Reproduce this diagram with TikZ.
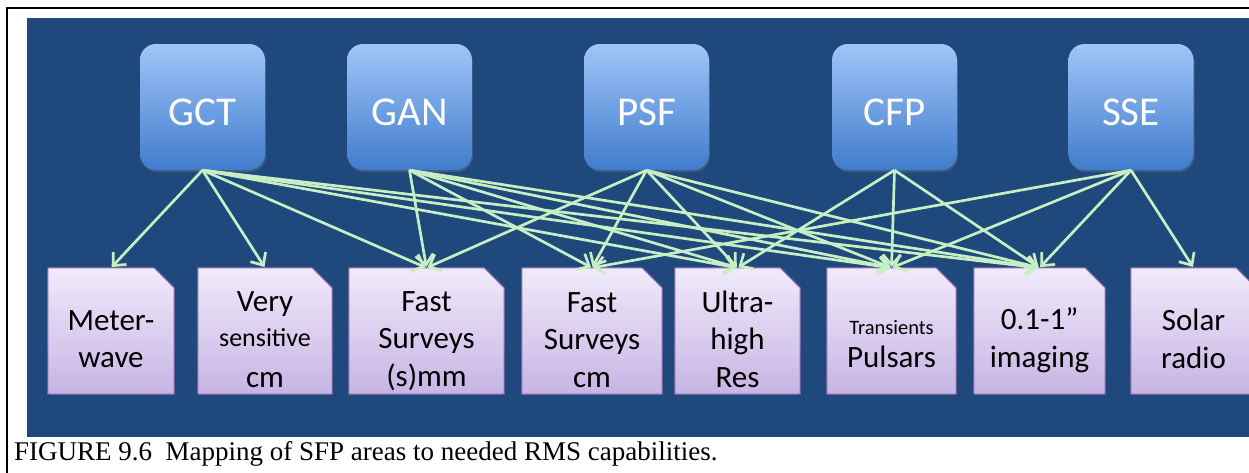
\documentclass[tikz,border=0pt]{standalone}
\usepackage{fontspec}
\setmainfont{Carlito}
\newfontfamily\capfont{Liberation Serif}
\usetikzlibrary{arrows.meta,shadows}
\definecolor{bgblue}{RGB}{31,72,124}
\definecolor{tbtop}{RGB}{160,198,248}
\definecolor{tbbot}{RGB}{64,124,204}
\definecolor{bbtop}{RGB}{240,234,250}
\definecolor{bbbot}{RGB}{200,180,228}
\definecolor{bbedge}{RGB}{140,110,175}
\definecolor{agreen}{RGB}{198,239,196}
\pgfdeclarelayer{back}
\pgfdeclarelayer{boxes}
\pgfsetlayers{back,boxes,main}
\tikzset{
  topbox/.style={rounded corners=16pt, minimum width=125pt, minimum height=126pt,
    top color=tbtop, bottom color=tbbot, text=white, inner sep=0pt,
    font=\fontsize{41}{41}\selectfont, text height=37pt, text depth=0pt,
    drop shadow={opacity=0.35, shadow xshift=1pt, shadow yshift=-2pt}},
  botbox/.style={minimum height=126pt, inner sep=0pt},
  btext/.style={align=center, inner sep=0pt, font=\fontsize{31}{37.5}\selectfont},
  snip/.style={top color=bbtop, bottom color=bbbot, draw=bbedge, line width=1pt},
  conn/.style={draw=agreen, line width=2.7pt,
    -{Straight Barb[length=10pt,width=18pt]}, shorten >=1pt}
}
\newcommand\snipbox[1]{%
  \shadedraw[snip] (#1.south west) -- (#1.north west) -- ([xshift=-20pt]#1.north east)
    -- ([yshift=-20pt]#1.north east) -- (#1.south east) -- cycle;}
\begin{document}
\begin{tikzpicture}[x=1pt,y=-1pt]
\useasboundingbox (0,0) rectangle (1249,472);
\clip (0,0) rectangle (1249,472);
\begin{pgfonlayer}{back}
  \fill[white] (0,0) rectangle (1249,472);
  \draw[line width=2pt] (7,480) -- (7,8) -- (1260,8);
  \fill[bgblue] (27,18) rectangle (1260,437);
\end{pgfonlayer}
% top boxes
\node[topbox] (gct) at (202.5,107) {GCT};
\node[topbox] (gan) at (409.5,107) {GAN};
\node[topbox] (psf) at (646.5,107) {PSF};
\node[topbox] (cfp) at (894.5,107) {CFP};
\node[topbox] (sse) at (1131,107) {SSE};
% bottom boxes
\node[botbox, minimum width=126pt, label={[btext,yshift=-8pt]center:Meter-\\wave}] (mw) at (111,331) {};
\node[botbox, minimum width=134pt, label={[btext,yshift=-9pt]center:Very\\[-3pt]{\fontsize{26}{30}\selectfont sensitive}\\[4pt]cm}] (vs) at (265,331) {};
\node[botbox, minimum width=155pt, label={[btext,yshift=-10pt]center:Fast\\Surveys\\(s)mm}] (fsm) at (426.5,331) {};
\node[botbox, minimum width=140pt, label={[btext,yshift=-9pt]center:Fast\\Surveys\\cm}] (fcm) at (592,331) {};
\node[botbox, minimum width=125pt, label={[btext,yshift=-8pt]center:Ultra-\\high\\Res}] (uhr) at (737.5,331) {};
\node[botbox, minimum width=129pt, label={[btext,yshift=-13pt]center:{\fontsize{20.5}{24}\selectfont Transients}\\[-5pt]Pulsars}] (tp) at (891.5,331) {};
\node[botbox, minimum width=131pt, label={[btext,yshift=-9pt]center:0.1-1\char"201D\\imaging}] (img) at (1039.5,331) {};
\node[botbox, minimum width=125pt, label={[btext,yshift=-8pt]center:Solar\\radio}] (sol) at (1193.5,331) {};
\begin{pgfonlayer}{boxes}
  \snipbox{mw}\snipbox{vs}\snipbox{fsm}\snipbox{fcm}
  \snipbox{uhr}\snipbox{tp}\snipbox{img}\snipbox{sol}
\end{pgfonlayer}
% connectors
\foreach \t in {mw,vs,fsm,uhr,tp,img} \draw[conn] (gct.south) -- (\t.north);
\foreach \t in {fsm,fcm,uhr,tp,img} \draw[conn] (gan.south) -- (\t.north);
\foreach \t in {fsm,fcm,uhr,tp,img} \draw[conn] (psf.south) -- (\t.north);
\foreach \t in {uhr,tp,img} \draw[conn] (cfp.south) -- (\t.north);
\foreach \t in {fcm,tp,img,sol} \draw[conn] (sse.south) -- (\t.north);
% caption
\node[anchor=base west, inner sep=0pt, font=\capfont\fontsize{27}{32}\selectfont] (cap) at (14,460)
  {FIGURE 9.6\ \ Mapping of SFP areas to needed RMS capabilities.};
\end{tikzpicture}
\end{document}
